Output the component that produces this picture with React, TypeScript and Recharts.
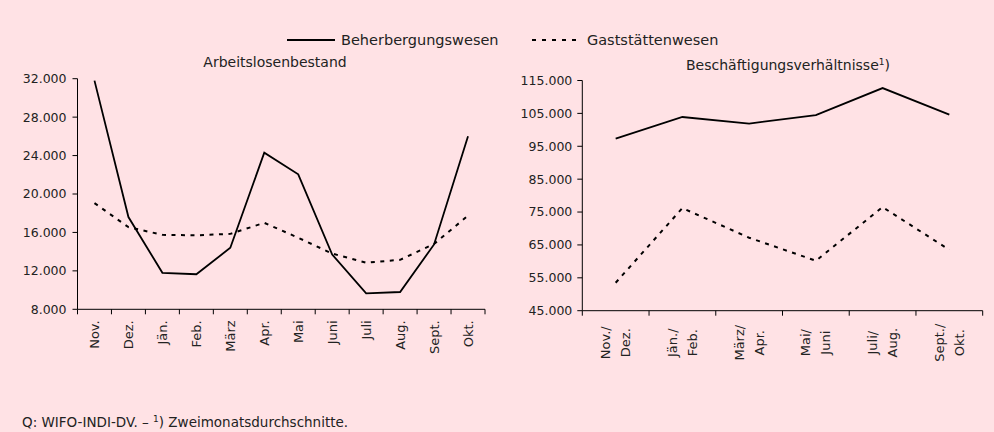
import React from 'react';
import { LineChart, Line, XAxis, YAxis } from 'recharts';

// Arbeitslosenbestand, monthly
const months = ['Nov.', 'Dez.', 'Jän.', 'Feb.', 'März', 'Apr.', 'Mai', 'Juni', 'Juli', 'Aug.', 'Sept.', 'Okt.'];
const unemployedAccommodation = [31800, 17600, 11800, 11650, 14400, 24300, 22050, 13700, 9650, 9800, 14750, 26000];
const unemployedGastronomy = [19050, 16550, 15750, 15700, 15850, 17000, 15450, 13800, 12850, 13150, 14800, 17750];
const unemployedTicks = [8000, 12000, 16000, 20000, 24000, 28000, 32000];

// Beschäftigungsverhältnisse, two-month averages
const periods = [
  ['Nov./', 'Dez.'],
  ['Jän./', 'Feb.'],
  ['März/', 'Apr.'],
  ['Mai/', 'Juni'],
  ['Juli/', 'Aug.'],
  ['Sept./', 'Okt.'],
];
const employedAccommodation = [97300, 103900, 101900, 104500, 112700, 104600];
const employedGastronomy = [53500, 76200, 67200, 60200, 76500, 63500];
const employedTicks = [45000, 55000, 65000, 75000, 85000, 95000, 105000, 115000];

const FONT = '"DejaVu Sans", sans-serif';
const INK = '#222';
const BG = '#ffe2e5';
const DASH = '4 5.5';

const fmt = (v: number) => String(v).replace(/\B(?=(\d{3})+(?!\d))/g, '.');

const leftData = months.map((m, i) => ({
  pos: i + 0.5,
  a: unemployedAccommodation[i],
  g: unemployedGastronomy[i],
}));
const rightData = periods.map((p, i) => ({
  pos: i + 0.5,
  a: employedAccommodation[i],
  g: employedGastronomy[i],
}));

// ticks at band edges (tick marks) and band centres (labels)
const edgeTicks = (n: number) => {
  const t: number[] = [];
  for (let i = 0; i <= n; i++) {
    t.push(i);
    if (i < n) t.push(i + 0.5);
  }
  return t;
};

const MonthTick = (props: any) => {
  const { x, y, payload } = props;
  const v = payload.value;
  if (Number.isInteger(v)) {
    return <line x1={x} x2={x} y1={y} y2={y + 5} stroke="#000" />;
  }
  const ty = y + 11;
  return (
    <text
      x={x}
      y={ty}
      transform={`rotate(-90 ${x} ${ty})`}
      textAnchor="end"
      dy="0.35em"
      fontSize={13}
      fontFamily={FONT}
      fill={INK}
    >
      {months[Math.floor(v)]}
    </text>
  );
};

const PeriodTick = (props: any) => {
  const { x, y, payload } = props;
  const v = payload.value;
  if (Number.isInteger(v)) {
    return <line x1={x} x2={x} y1={y} y2={y + 5} stroke="#000" />;
  }
  const [l1, l2] = periods[Math.floor(v)];
  const ty = y + 32;
  return (
    <g>
      <text x={x - 10} y={ty} transform={`rotate(-90 ${x - 10} ${ty})`} textAnchor="middle" dy="0.35em"
        fontSize={13} fontFamily={FONT} fill={INK}>{l1}</text>
      <text x={x + 10} y={ty} transform={`rotate(-90 ${x + 10} ${ty})`} textAnchor="middle" dy="0.35em"
        fontSize={13} fontFamily={FONT} fill={INK}>{l2}</text>
    </g>
  );
};

const yTick = { fontSize: 12.5, fontFamily: FONT, fill: INK };

const App: React.FC = () => {
  return (
    <div style={{ position: 'fixed', left: 0, top: 0, width: 994, height: 432, background: BG, overflow: 'hidden' }}>
      <div style={{ position: 'absolute', left: 0, top: 0 }}>
        <LineChart width={490} height={432} data={leftData} margin={{ top: 78.7, right: 5, bottom: 92.7, left: 0 }}>
          <XAxis
            dataKey="pos"
            type="number"
            domain={[0, 12]}
            ticks={edgeTicks(12)}
            interval={0}
            height={30}
            tickSize={0}
            tickMargin={0}
            tickLine={false}
            axisLine={{ stroke: '#000' }}
            tick={<MonthTick />}
          />
          <YAxis
            type="number"
            domain={[8000, 32000]}
            ticks={unemployedTicks}
            interval={0}
            width={77.5}
            tickSize={5}
            tickMargin={6}
            tickFormatter={fmt}
            axisLine={{ stroke: '#000' }}
            tickLine={{ stroke: '#000' }}
            tick={yTick}
          />
          <Line dataKey="a" stroke="#000" strokeWidth={1.8} dot={false} isAnimationActive={false} />
          <Line dataKey="g" stroke="#000" strokeWidth={2} strokeDasharray={DASH} dot={false} isAnimationActive={false} />
        </LineChart>
      </div>
      <div style={{ position: 'absolute', left: 490, top: 0 }}>
        <LineChart width={504} height={432} data={rightData} margin={{ top: 80.5, right: 11.3, bottom: 91.3, left: 0 }}>
          <XAxis
            dataKey="pos"
            type="number"
            domain={[0, 6]}
            ticks={edgeTicks(6)}
            interval={0}
            height={30}
            tickSize={0}
            tickMargin={0}
            tickLine={false}
            axisLine={{ stroke: '#000' }}
            tick={<PeriodTick />}
          />
          <YAxis
            type="number"
            domain={[45000, 115000]}
            ticks={employedTicks}
            interval={0}
            width={92.3}
            tickSize={5}
            tickMargin={5}
            tickFormatter={fmt}
            axisLine={{ stroke: '#000' }}
            tickLine={{ stroke: '#000' }}
            tick={yTick}
          />
          <Line dataKey="a" stroke="#000" strokeWidth={1.8} dot={false} isAnimationActive={false} />
          <Line dataKey="g" stroke="#000" strokeWidth={2} strokeDasharray={DASH} dot={false} isAnimationActive={false} />
        </LineChart>
      </div>
      <svg width={994} height={432} style={{ position: 'absolute', left: 0, top: 0, pointerEvents: 'none' }}>
        <g fontFamily={FONT} fill={INK}>
          <line x1={287} x2={335} y1={40} y2={40} stroke="#000" strokeWidth={1.8} />
          <text x={341} y={40} dy="0.35em" fontSize={14.5}>Beherbergungswesen</text>
          <line x1={532} x2={579} y1={40} y2={40} stroke="#000" strokeWidth={2} strokeDasharray="4 6" />
          <text x={587} y={40} dy="0.35em" fontSize={14.5}>Gaststättenwesen</text>

          <text x={275} y={62} dy="0.35em" fontSize={14} textAnchor="middle">Arbeitslosenbestand</text>
          <text x={788} y={65} dy="0.35em" fontSize={14} textAnchor="middle">
            Beschäftigungsverhältnisse<tspan fontSize={9} dy={-5}>1</tspan><tspan dy={5}>)</tspan>
          </text>

          <text x={22} y={427} fontSize={13.5}>
            Q: WIFO-INDI-DV. – <tspan fontSize={9} dy={-5}>1</tspan><tspan dy={5}>) Zweimonatsdurchschnitte.</tspan>
          </text>
        </g>
      </svg>
    </div>
  );
};

export default App;
